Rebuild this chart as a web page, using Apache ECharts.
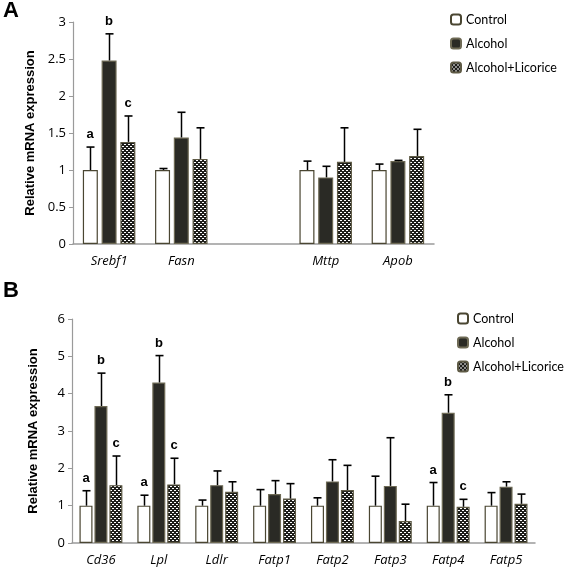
<!DOCTYPE html>
<html><head><meta charset="utf-8">
<script src="https://cdn.jsdelivr.net/npm/echarts@6/dist/echarts.min.js"></script>
<style>html,body{margin:0;padding:0;background:#fff}#c{width:567px;height:569px}</style>
</head><body><div id="c"></div>
<script>
// ---------- Data ----------
const seriesNames = ['Control', 'Alcohol', 'Alcohol+Licorice'];
const yTicksA = [0, 0.5, 1, 1.5, 2, 2.5, 3];
const yTicksB = [0, 1, 2, 3, 4, 5, 6];
// Panel A (third slot is an empty gap between the gene groups)
const catsA = ['Srebf1', 'Fasn', '', 'Mttp', 'Apob'];
const ctrlA = [1.0, 1.0, null, 1.0, 1.0];
const alcA = [2.48, 1.44, null, 0.90, 1.12];
const licA = [1.38, 1.15, null, 1.11, 1.19];
const ctrlAErrTop = [1.31, 1.02, null, 1.12, 1.08];
const alcAErrTop = [2.84, 1.78, null, 1.05, 1.13];
const licAErrTop = [1.73, 1.57, null, 1.57, 1.55];
const ctrlASig = ['a', '', '', '', ''];
const alcASig = ['b', '', '', '', ''];
const licASig = ['c', '', '', '', ''];
// Panel B
const catsB = ['Cd36', 'Lpl', 'Ldlr', 'Fatp1', 'Fatp2', 'Fatp3', 'Fatp4', 'Fatp5'];
const ctrlB = [1.0, 1.0, 1.0, 1.0, 1.0, 1.0, 1.0, 1.0];
const alcB = [3.67, 4.30, 1.55, 1.31, 1.65, 1.53, 3.49, 1.51];
const licB = [1.55, 1.57, 1.37, 1.19, 1.42, 0.59, 0.97, 1.05];
const ctrlBErrTop = [1.40, 1.28, 1.15, 1.43, 1.21, 1.79, 1.62, 1.35];
const alcBErrTop = [4.55, 5.02, 1.93, 1.67, 2.23, 2.82, 3.97, 1.64];
const licBErrTop = [2.33, 2.27, 1.64, 1.59, 2.08, 1.04, 1.17, 1.31];
const ctrlBSig = ['a', 'a', '', '', '', '', 'a', ''];
const alcBSig = ['b', 'b', '', '', '', '', 'b', ''];
const licBSig = ['c', 'c', '', '', '', '', 'c', ''];

// ---------- Styles ----------
function dotPattern() {
  const c = document.createElement('canvas');
  c.width = 4; c.height = 4;
  const g = c.getContext('2d');
  g.fillStyle = '#1e1e1a'; g.fillRect(0, 0, 4, 4);
  g.fillStyle = '#ffffff';
  g.fillRect(0, 0, 2, 1); g.fillRect(2, 2, 2, 1);
  return c;
}
const pat = dotPattern();
const styles = [
  { color: '#ffffff', borderColor: '#4a4632', borderWidth: 1.2 },
  { color: '#2a2a25', borderColor: '#6e6a55', borderWidth: 1.2 },
  { color: { image: pat, repeat: 'repeat' }, borderColor: '#5e5a45', borderWidth: 1.2 }
];
const tickFont = '"Open Sans", "Noto Sans", sans-serif';
const legendFont = 'Lato, "Open Sans", sans-serif';

const chart = echarts.init(document.getElementById('c'), null, { renderer: 'canvas' });

function errSeries(gridIdx, cats, vals, tops, sigs, slot, barW, pitch, name) {
  const data = cats.map((c, i) => [i, vals[i], tops[i], sigs[i]]).filter(d => d[1] != null);
  return {
    type: 'custom', name: name + ' err', xAxisIndex: gridIdx, yAxisIndex: gridIdx, z: 5,
    silent: true, legendHoverLink: false,
    data: data,
    renderItem: function (params, api) {
      const off = (slot - 1) * pitch;
      const p0 = api.coord([api.value(0), api.value(1)]);
      const p1 = api.coord([api.value(0), api.value(2)]);
      const x = Math.round(p0[0] + off) + 0.5;
      const children = [
        { type: 'line', shape: { x1: x, y1: p0[1], x2: x, y2: p1[1] }, style: { stroke: '#000', lineWidth: 1.5 } },
        { type: 'line', shape: { x1: x - 4, y1: p1[1], x2: x + 4, y2: p1[1] }, style: { stroke: '#000', lineWidth: 1.6 } }
      ];
      const s = data[params.dataIndex][3];
      if (s) {
        children.push({ type: 'text', style: { text: s, x: x - 0.5, y: p1[1] - 6, align: 'center', verticalAlign: 'bottom',
          font: 'bold 13px "Liberation Sans", Arial, sans-serif', fill: '#000' } });
      }
      return { type: 'group', children: children };
    },
    encode: { x: 0, y: 2 }
  };
}

function barSeries(gridIdx, vals, slot, barW, gap) {
  return {
    type: 'bar', name: seriesNames[slot], xAxisIndex: gridIdx, yAxisIndex: gridIdx,
    data: vals, barWidth: barW, barGap: gap, itemStyle: styles[slot], emphasis: { disabled: true }
  };
}

const barWA = 15, gapA = '25%', pitchA = 15 * 1.25;
const barWB = 13, gapB = '15%', pitchB = 13 * 1.15;

function yAxis(gridIdx, ticks) {
  return {
    type: 'value', gridIndex: gridIdx, min: ticks[0], max: ticks[ticks.length - 1], interval: ticks[1] - ticks[0],
    name: 'Relative mRNA expression', nameLocation: 'middle', nameGap: 32,
    nameTextStyle: { fontFamily: '"Liberation Sans", Arial, sans-serif', fontWeight: 'bold', fontSize: 13, color: '#000' },
    axisLine: { show: true, lineStyle: { color: '#9a9a9a', width: 1.2 } },
    axisTick: { show: true, length: 4, lineStyle: { color: '#9a9a9a' } },
    splitLine: { show: false },
    axisLabel: { fontFamily: tickFont, fontSize: 13, color: '#000', margin: 7 }
  };
}
function xAxis(gridIdx, cats) {
  return {
    type: 'category', gridIndex: gridIdx, data: cats,
    axisLine: { show: true, lineStyle: { color: '#9a9a9a', width: 1.5 } },
    axisTick: { show: false },
    axisLabel: { fontFamily: tickFont, fontStyle: 'italic', fontSize: 13, color: '#000', margin: 11, interval: 0 }
  };
}
function legend(left, top) {
  return {
    orient: 'vertical', left: left, top: top, itemWidth: 10, itemHeight: 10, itemGap: 11, padding: 0,
    data: seriesNames, selectedMode: false,
    textStyle: { fontFamily: legendFont, fontSize: 12.5, color: '#000' }
  };
}

chart.setOption({
  animation: false,
  grid: [
    { left: 73, top: 22, width: 361, height: 222 },
    { left: 72, top: 319, width: 463, height: 224 }
  ],
  xAxis: [xAxis(0, catsA), xAxis(1, catsB)],
  yAxis: [yAxis(0, yTicksA), yAxis(1, yTicksB)],
  legend: [legend(450, 13), legend(457, 312)],
  graphic: [
    { type: 'text', left: 3, top: 0, style: { text: 'A', font: 'bold 22px "Liberation Sans", Arial, sans-serif', fill: '#000' } },
    { type: 'text', left: 3, top: 280, style: { text: 'B', font: 'bold 22px "Liberation Sans", Arial, sans-serif', fill: '#000' } }
  ],
  series: [
    barSeries(0, ctrlA, 0, barWA, gapA),
    barSeries(0, alcA, 1, barWA, gapA),
    barSeries(0, licA, 2, barWA, gapA),
    barSeries(1, ctrlB, 0, barWB, gapB),
    barSeries(1, alcB, 1, barWB, gapB),
    barSeries(1, licB, 2, barWB, gapB),
    errSeries(0, catsA, ctrlA, ctrlAErrTop, ctrlASig, 0, barWA, pitchA, 'cA'),
    errSeries(0, catsA, alcA, alcAErrTop, alcASig, 1, barWA, pitchA, 'aA'),
    errSeries(0, catsA, licA, licAErrTop, licASig, 2, barWA, pitchA, 'lA'),
    errSeries(1, catsB, ctrlB, ctrlBErrTop, ctrlBSig, 0, barWB, pitchB, 'cB'),
    errSeries(1, catsB, alcB, alcBErrTop, alcBSig, 1, barWB, pitchB, 'aB'),
    errSeries(1, catsB, licB, licBErrTop, licBSig, 2, barWB, pitchB, 'lB')
  ]
});
</script></body></html>
